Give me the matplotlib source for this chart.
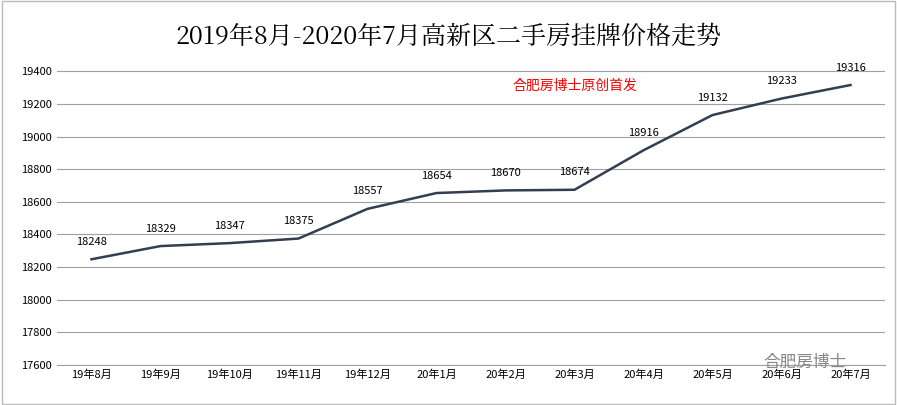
import matplotlib
matplotlib.use("Agg")
import matplotlib.pyplot as plt
from matplotlib import font_manager as fm

months = ["19年8月","19年9月","19年10月","19年11月","19年12月","20年1月","20年2月","20年3月","20年4月","20年5月","20年6月","20年7月"]
prices = [18248,18329,18347,18375,18557,18654,18670,18674,18916,19132,19233,19316]
yticks = list(range(17600, 19401, 200))

cjk = [f.name for f in fm.fontManager.ttflist if "CJK" in f.name]
sans = [n for n in cjk if "Sans" in n and "SC" in n] or [n for n in cjk if "Sans" in n] or cjk or ["DejaVu Sans"]
serif = [n for n in cjk if "Serif" in n and "SC" in n] or [n for n in cjk if "Serif" in n] or sans
plt.rcParams["font.family"] = [sans[0], "DejaVu Sans"]
W, H = 897, 405
fig = plt.figure(figsize=(W/100, H/100), dpi=100)
ax = fig.add_axes([57/W, 1-365/H, (885-57)/W, (365-55)/H])
x = list(range(len(months)))
ax.plot(x, prices, color="#333f50", lw=1.8)
for xi, v in zip(x, prices):
    ax.annotate(str(v), (xi, v), xytext=(0, 9), textcoords="offset points",
                ha="center", va="bottom", fontsize=8)
ax.set_xlim(-0.5, len(months)-0.5)
ax.set_ylim(17600, 19500)
ax.set_yticks(yticks)
ax.set_xticks(x)
ax.set_xticklabels(months, fontsize=8)
ax.tick_params(axis="y", labelsize=8, length=0)
ax.tick_params(axis="x", length=0)
ax.grid(axis="y", color="#a0a0a0", lw=0.8)
for s in ["top", "right", "left"]:
    ax.spines[s].set_visible(False)
ax.spines["bottom"].set_color("#a0a0a0")
ax.set_axisbelow(True)
fig.text(0.5, 1-37/H, "2019年8月-2020年7月高新区二手房挂牌价格走势", ha="center", va="center",
         fontsize=18, fontfamily=serif[0])
fig.text(575/W, 1-86/H, "合肥房博士原创首发", color="red", ha="center", va="center", fontsize=10)
fig.text(805/W, 1-362/H, "合肥房博士", color="#888888", ha="center", va="center", fontsize=12)
fig.patches.append(plt.Rectangle((0.002, 0.002), 0.996, 0.996, transform=fig.transFigure,
                                 fill=False, ec="#bbbbbb", lw=1))
fig.savefig("out.png", dpi=100)
